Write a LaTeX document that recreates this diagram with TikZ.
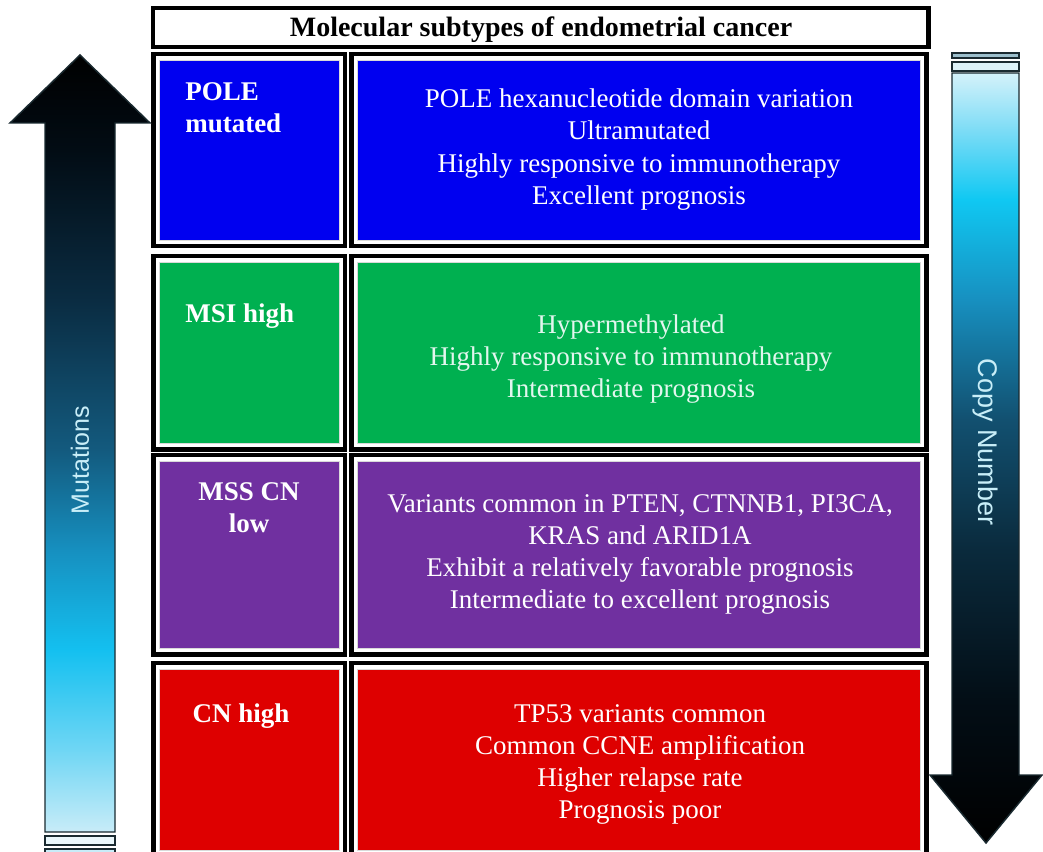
\documentclass[tikz,border=0pt]{standalone}
\usepackage{fontspec}
\setmainfont{Liberation Serif}
\newfontfamily\sansf{Liberation Sans}
\definecolor{cblue}{HTML}{0000F0}
\definecolor{cgreen}{HTML}{00B050}
\definecolor{cpurple}{HTML}{7030A0}
\definecolor{cred}{HTML}{DE0000}
\definecolor{mint}{HTML}{E2F6EE}
\definecolor{arrline}{HTML}{1A2A30}
\definecolor{arrtext}{HTML}{C8EEF8}
\definecolor{barA}{HTML}{EAF7FB}
\definecolor{barB}{HTML}{C8ECF8}
\definecolor{barC}{HTML}{9CBFCC}
\definecolor{barD}{HTML}{DCF2F8}
\definecolor{mA}{HTML}{C8ECF8}
\definecolor{mB}{HTML}{6FD6F4}
\definecolor{mC}{HTML}{14C0F0}
\definecolor{mD}{HTML}{1690C0}
\definecolor{mE}{HTML}{135A7E}
\definecolor{mF}{HTML}{0A2C42}
\definecolor{mG}{HTML}{020C14}
\definecolor{nA}{HTML}{D4F2FA}
\definecolor{nB}{HTML}{7DDCF6}
\definecolor{nC}{HTML}{10C8F2}
\definecolor{nD}{HTML}{1790C0}
\definecolor{nE}{HTML}{125070}
\definecolor{nF}{HTML}{0A2A3C}
\definecolor{nG}{HTML}{030E16}
\pgfdeclareverticalshading{mutshade}{100bp}{color(0bp)=(mA); color(25bp)=(mA); color(30.3bp)=(mB); color(36.7bp)=(mC); color(43.1bp)=(mD); color(49.6bp)=(mE); color(59.2bp)=(mF); color(68.9bp)=(mG); color(75bp)=(black); color(100bp)=(black)}
\pgfdeclareverticalshading{cnshade}{100bp}{color(0bp)=(black); color(25bp)=(black); color(34.3bp)=(nG); color(44bp)=(nF); color(52.5bp)=(nE); color(60.3bp)=(nD); color(66.8bp)=(nC); color(71.3bp)=(nB); color(75bp)=(nA); color(100bp)=(nA)}
\begin{document}
\begin{tikzpicture}[x=0.75pt,y=-0.75pt,
  frame/.style={draw=black, line width=3.4pt, fill=white},
  cellfill/.style={draw=gray!30, line width=0.5pt},
  body/.style={text=white, font=\fontsize{20.25}{24}\selectfont, anchor=base, inner sep=0pt},
  lab/.style={text=white, font=\fontsize{20.25}{24}\selectfont\bfseries, anchor=base, inner sep=0pt},
  arrowline/.style={draw=arrline, line width=1.1pt},
  arrlabel/.style={text=arrtext, inner sep=0pt}]
\useasboundingbox (0,0) rectangle (1043,852);
\clip (0,0) rectangle (1043,852);
\fill[white] (0,0) rectangle (1043,852);

% title
\draw[frame] (153,8) rectangle (928.5,47);
\node[lab, text=black, font=\fontsize{21}{24}\selectfont\bfseries] (title) at (541,37) {Molecular subtypes of endometrial cancer};

% row 1
\draw[frame] (153.5,54) rectangle (345,246);
\draw[cellfill, fill=cblue] (159.5,60) rectangle (339,240);
\draw[frame] (351.5,54) rectangle (926.5,246);
\draw[cellfill, fill=cblue] (357.5,60) rectangle (920.5,240);
% row 2
\draw[frame] (153.5,256) rectangle (345,449.5);
\draw[cellfill, fill=cgreen] (159.5,262) rectangle (339,443.5);
\draw[frame] (351.5,256) rectangle (926.5,449.5);
\draw[cellfill, fill=cgreen] (357.5,262) rectangle (920.5,443.5);
% row 3
\draw[frame] (153.5,455) rectangle (345,654.5);
\draw[cellfill, fill=cpurple] (159.5,461) rectangle (339,648.5);
\draw[frame] (351.5,455) rectangle (926.5,654.5);
\draw[cellfill, fill=cpurple] (357.5,461) rectangle (920.5,648.5);
% row 4
\draw[frame] (153.5,663) rectangle (345,856);
\draw[cellfill, fill=cred] (159.5,669) rectangle (339,850);
\draw[frame] (351.5,663) rectangle (926.5,856);
\draw[cellfill, fill=cred] (357.5,669) rectangle (920.5,850);

% left labels
\node[lab, anchor=base west] (l1a) at (185,100.5) {POLE};
\node[lab, anchor=base west] (l1b) at (185,132.5) {mutated};
\node[lab, anchor=base west] (l2) at (185,322.5) {MSI high};
\node[lab] (l3a) at (249,500.5) {MSS CN};
\node[lab] (l3b) at (249,532.5) {low};
\node[lab] (l4) at (241,722.5) {CN high};

% row 1 text
\node[body] (t1a) at (639,107.5) {POLE hexanucleotide domain variation};
\node[body] (t1b) at (639,139.9) {Ultramutated};
\node[body] (t1c) at (639,172.3) {Highly responsive to immunotherapy};
\node[body] (t1d) at (639,204.7) {Excellent prognosis};
% row 2 text
\node[body, text=mint] (t2a) at (631,333.5) {Hypermethylated};
\node[body, text=mint] (t2b) at (631,365.5) {Highly responsive to immunotherapy};
\node[body, text=mint] (t2c) at (631,397.5) {Intermediate prognosis};
% row 3 text
\node[body] (t3a) at (640,512.5) {Variants common in PTEN, CTNNB1, PI3CA,};
\node[body] (t3b) at (640,544.5) {KRAS and ARID1A};
\node[body] (t3c) at (640,576.5) {Exhibit a relatively favorable prognosis};
\node[body] (t3d) at (640,608.5) {Intermediate to excellent prognosis};
% row 4 text
\node[body] (t4a) at (640,722.5) {TP53 variants common};
\node[body] (t4b) at (640,754.5) {Common CCNE amplification};
\node[body] (t4c) at (640,786.5) {Higher relapse rate};
\node[body] (t4d) at (640,818.5) {Prognosis poor};

% left arrow (mutations)
\shadedraw[arrowline, shading=mutshade] (45,832) -- (45,123) -- (10,123) -- (80,55) -- (150,123) -- (115,123) -- (115,832) -- cycle;
\draw[arrowline, fill=barA] (45,836) rectangle (115,845);
\draw[arrowline, fill=barB] (45,849) rectangle (115,862);
\node[arrlabel, rotate=90, font=\sansf\fontsize{18.75}{22}\selectfont] (mut) at (80,460) {Mutations};

% right arrow (copy number)
\draw[arrowline, fill=barC] (952,53) rectangle (1019,58);
\draw[arrowline, fill=barD] (952,62) rectangle (1019,71);
\shadedraw[arrowline, shading=cnshade] (952,73) -- (1019,73) -- (1019,775) -- (1042,775) -- (986,843) -- (930,775) -- (952,775) -- cycle;
\node[arrlabel, rotate=-90, font=\sansf\fontsize{20.25}{22}\selectfont] (cn) at (985,442) {Copy Number};
\end{tikzpicture}
\end{document}
